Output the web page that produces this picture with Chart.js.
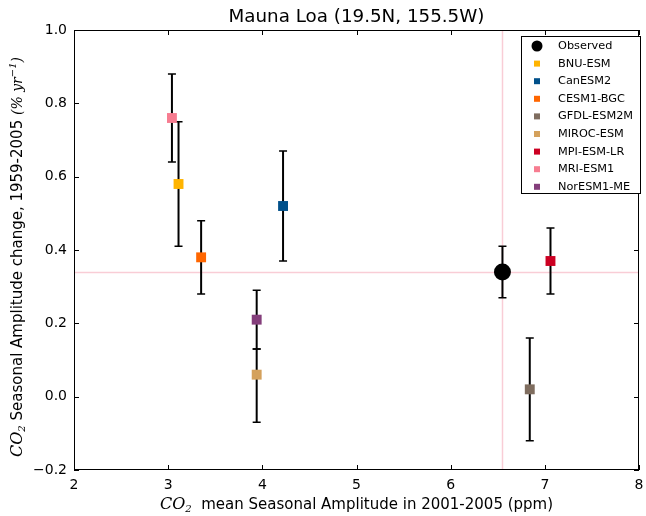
<!DOCTYPE html>
<html>
<head>
<meta charset="utf-8">
<script src="https://cdn.jsdelivr.net/npm/chart.js@4.4.0/dist/chart.umd.min.js"></script>
<style>
  html, body { margin: 0; padding: 0; background: #fff; overflow: hidden; }
  #wrap { position: relative; width: 646px; height: 516px; }
  #wrap canvas { display: block; }
</style>
</head>
<body>
<div id="wrap"><canvas id="c"></canvas></div>
<script>
// --- data ---
const models = ['Observed', 'BNU-ESM', 'CanESM2', 'CESM1-BGC', 'GFDL-ESM2M', 'MIROC-ESM', 'MPI-ESM-LR', 'MRI-ESM1', 'NorESM1-ME'];
const xVals  = [6.55, 3.11, 4.22, 3.35, 6.84, 3.94, 7.06, 3.04, 3.94];
const yVals  = [0.34, 0.58, 0.52, 0.38, 0.02, 0.06, 0.37, 0.76, 0.21];
const yLow   = [0.27, 0.41, 0.37, 0.28, -0.12, -0.07, 0.28, 0.64, 0.13];
const yHigh  = [0.41, 0.75, 0.67, 0.48, 0.16, 0.13, 0.46, 0.88, 0.29];
const colors = ['#000000', '#ffb400', '#00508a', '#ff6600', '#7f6d5f', '#d4a15c', '#cc0022', '#f77d91', '#843e7b'];
const refX = 6.55, refY = 0.34;
const xTicks = [2, 3, 4, 5, 6, 7, 8];
const yTicks = [-0.2, 0, 0.2, 0.4, 0.6, 0.8, 1.0];

const SANS = '"DejaVu Sans", sans-serif';

// draw a run of text pieces centred on (cx, cy); pieces: {t, f, dy}
function drawRuns(ctx, runs, cx, cy) {
    let total = 0;
    runs.forEach(r => { ctx.font = r.f; r.w = ctx.measureText(r.t).width; total += r.w; });
    let x = cx - total / 2;
    ctx.textBaseline = 'middle';
    ctx.textAlign = 'left';
    runs.forEach(r => { ctx.font = r.f; ctx.fillText(r.t, x, cy + (r.dy || 0)); x += r.w; });
}

const decorPlugin = {
    id: 'decor',
    beforeDatasetsDraw(chart) {
        const { ctx, chartArea: a, scales: { x, y } } = chart;
        ctx.save();
        ctx.beginPath();
        ctx.rect(a.left, a.top, a.right - a.left, a.bottom - a.top);
        ctx.clip();
        // reference lines
        ctx.strokeStyle = '#f9cdd6';
        ctx.lineWidth = 1.5;
        ctx.beginPath();
        const px = Math.round(x.getPixelForValue(refX)) + 0.5;
        const py = Math.round(y.getPixelForValue(refY)) + 0.5;
        ctx.moveTo(px, a.top); ctx.lineTo(px, a.bottom);
        ctx.moveTo(a.left, py); ctx.lineTo(a.right, py);
        ctx.stroke();
        // error bars
        ctx.strokeStyle = '#000';
        models.forEach((m, i) => {
            const ex = x.getPixelForValue(xVals[i]);
            const t = y.getPixelForValue(yHigh[i]);
            const b = y.getPixelForValue(yLow[i]);
            ctx.lineWidth = 2;
            ctx.beginPath(); ctx.moveTo(ex, t); ctx.lineTo(ex, b); ctx.stroke();
            ctx.lineWidth = 1.5;
            ctx.beginPath();
            ctx.moveTo(ex - 4, t); ctx.lineTo(ex + 4, t);
            ctx.moveTo(ex - 4, b); ctx.lineTo(ex + 4, b);
            ctx.stroke();
        });
        ctx.restore();
    },
    afterDraw(chart) {
        const { ctx, chartArea: a, scales: { x, y } } = chart;
        ctx.save();
        // frame
        ctx.strokeStyle = '#000';
        ctx.lineWidth = 1;
        ctx.strokeRect(a.left + 0.5, a.top + 0.5, a.right - a.left - 1, a.bottom - a.top - 1);
        // inward ticks on all sides
        ctx.beginPath();
        xTicks.forEach(v => {
            const p = Math.round(x.getPixelForValue(v)) + 0.5;
            ctx.moveTo(p, a.bottom); ctx.lineTo(p, a.bottom - 5);
            ctx.moveTo(p, a.top); ctx.lineTo(p, a.top + 5);
        });
        yTicks.forEach(v => {
            const p = Math.round(y.getPixelForValue(v)) + 0.5;
            ctx.moveTo(a.left, p); ctx.lineTo(a.left + 5, p);
            ctx.moveTo(a.right, p); ctx.lineTo(a.right - 5, p);
        });
        ctx.stroke();

        // last x tick label, drawn here so it may run past the canvas edge like the original
        ctx.fillStyle = '#000';
        ctx.font = '14px ' + SANS;
        ctx.textAlign = 'center';
        ctx.textBaseline = 'middle';
        const last = xTicks[xTicks.length - 1];
        ctx.fillText(String(last), x.getPixelForValue(last), a.bottom + 7 + 8.4);

        // title
        ctx.font = '18.3px ' + SANS;
        ctx.fillText('Mauna Loa (19.5N, 155.5W)', (a.left + a.right) / 2, 17);

        // x title
        const it = 'italic 16px "DejaVu Serif", serif';
        const sub = 'italic 10px "DejaVu Serif", serif';
        const tx = '15px ' + SANS;
        drawRuns(ctx, [
            { t: 'CO', f: it }, { t: '2', f: sub, dy: 4 },
            { t: '  mean Seasonal Amplitude in 2001-2005 (ppm)', f: tx }
        ], (a.left + a.right) / 2, 505);

        // y title
        ctx.save();
        ctx.translate(18, (a.top + a.bottom) / 2 + 7);
        ctx.rotate(-Math.PI / 2);
        drawRuns(ctx, [
            { t: 'CO', f: it }, { t: '2', f: sub, dy: 4 },
            { t: ' Seasonal Amplitude change, 1959-2005 ', f: tx },
            { t: '(% yr', f: 'italic 14px "DejaVu Serif", serif' },
            { t: '\u22121', f: 'italic 10px "DejaVu Serif", serif', dy: -5 },
            { t: ')', f: 'italic 14px "DejaVu Serif", serif' }
        ], 0, 0);
        ctx.restore();

        // legend box
        const lx = 521, ly = 36, lw = 119, lh = 157;
        ctx.fillStyle = '#fff';
        ctx.fillRect(lx, ly, lw, lh);
        ctx.strokeStyle = '#000';
        ctx.lineWidth = 1;
        ctx.strokeRect(lx + 0.5, ly + 0.5, lw, lh);
        ctx.font = '11.3px ' + SANS;
        ctx.textAlign = 'left';
        ctx.textBaseline = 'middle';
        models.forEach((m, i) => {
            const cy = 46 + i * 17.6;
            ctx.fillStyle = colors[i];
            if (i === 0) {
                ctx.beginPath(); ctx.arc(537, cy, 5.5, 0, Math.PI * 2); ctx.fill();
            } else {
                ctx.fillRect(534, cy - 3, 6, 6);
            }
            ctx.fillStyle = '#000';
            ctx.fillText(m, 558, cy);
        });
        ctx.restore();
    }
};

const datasets = models.map((m, i) => ({
    label: m,
    data: [{ x: xVals[i], y: yVals[i] }],
    backgroundColor: colors[i],
    borderColor: colors[i],
    borderWidth: 0,
    pointStyle: i === 0 ? 'circle' : 'rect',
    pointRadius: i === 0 ? 8.5 : 7,
    pointHoverRadius: i === 0 ? 8.5 : 7
}));
// draw observed on top
datasets[0].order = -1;

new Chart(document.getElementById('c'), {
    type: 'scatter',
    data: { datasets },
    options: {
        responsive: true,
        maintainAspectRatio: false,
        animation: false,
        layout: { autoPadding: false, padding: { left: 0, right: 1, top: 30, bottom: 0 } },
        plugins: { legend: { display: false }, tooltip: { enabled: false } },
        scales: {
            x: {
                type: 'linear', min: 2, max: 8,
                afterFit: s => { s.height = 46; },
                grid: { display: false, drawTicks: false },
                border: { display: false },
                ticks: {
                    stepSize: 1, padding: 7, color: '#000',
                    font: { family: 'DejaVu Sans', size: 14 },
                    // the last label is drawn by the plugin
                    callback: v => (v === xTicks[xTicks.length - 1] ? '' : String(v))
                }
            },
            y: {
                type: 'linear', min: -0.2, max: 1.0,
                afterFit: s => { s.width = 74; },
                grid: { display: false, drawTicks: false },
                border: { display: false },
                ticks: {
                    stepSize: 0.2, padding: 7, color: '#000',
                    font: { family: 'DejaVu Sans', size: 14 },
                    callback: v => (v < -1e-9 ? '\u2212' : '') + Math.abs(v).toFixed(1)
                }
            }
        }
    },
    plugins: [decorPlugin]
});
</script>
</body>
</html>
